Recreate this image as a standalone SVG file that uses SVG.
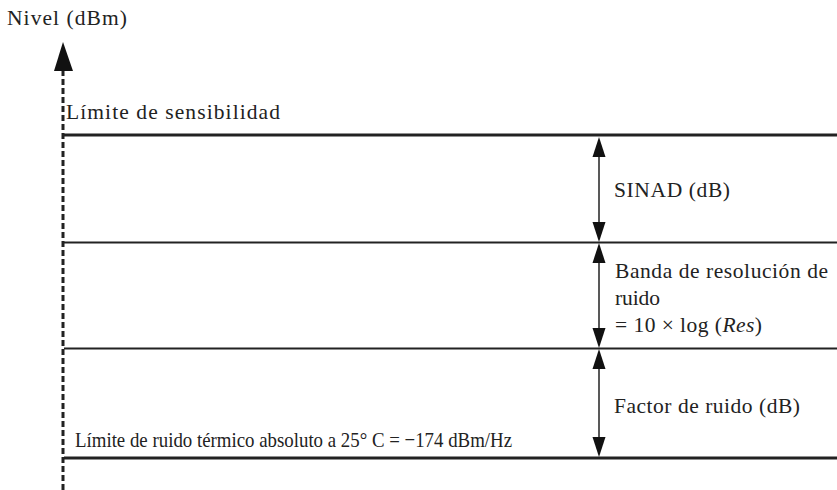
<svg xmlns="http://www.w3.org/2000/svg" width="837" height="490" viewBox="0 0 837 490">
<style>
text{font-family:'Liberation Serif','DejaVu Serif',serif;font-size:21.5px;fill:#222}
.lvl{stroke:#222;fill:none}
.dim{stroke:#222;stroke-width:1.5;fill:none}
.ah{fill:#111}
</style>
<rect width="837" height="490" fill="#fff"/>
<g id="axis">
<line x1="63" y1="70" x2="63" y2="490" stroke="#222" stroke-width="3" stroke-dasharray="6,3"/>
<polygon class="ah" points="63,42 54,71 73,71"/>
<text x="7" y="25" textLength="120" lengthAdjust="spacing">Nivel (dBm)</text>
</g>
<g id="levels">
<line class="lvl" x1="64" y1="135" x2="837" y2="135" stroke-width="3"/>
<line class="lvl" x1="64" y1="242.5" x2="837" y2="242.5" stroke-width="1.8"/>
<line class="lvl" x1="64" y1="348.5" x2="837" y2="348.5" stroke-width="1.8"/>
<line class="lvl" x1="64" y1="458" x2="837" y2="458" stroke-width="3"/>
</g>
<g id="sensibilidad"><text x="66" y="119" textLength="214" lengthAdjust="spacing">Límite de sensibilidad</text></g>
<g id="termico"><text x="75" y="447" textLength="437" lengthAdjust="spacingAndGlyphs">Límite de ruido térmico absoluto a 25° C = −174 dBm/Hz</text></g>
<g id="connectors">
<line class="dim" x1="599" y1="150" x2="599" y2="228"/>
<polygon class="ah" points="599,137 592.5,157 605.5,157"/>
<polygon class="ah" points="599,242 592.5,222 605.5,222"/>
<line class="dim" x1="599" y1="258" x2="599" y2="334"/>
<polygon class="ah" points="599,243 592.5,263 605.5,263"/>
<polygon class="ah" points="599,348 592.5,328 605.5,328"/>
<line class="dim" x1="599" y1="364" x2="599" y2="443"/>
<polygon class="ah" points="599,349 592.5,369 605.5,369"/>
<polygon class="ah" points="599,457 592.5,437 605.5,437"/>
</g>
<g id="sinad"><text x="614" y="197" textLength="116" lengthAdjust="spacing">SINAD (dB)</text></g>
<g id="banda">
<text x="615" y="278" textLength="213" lengthAdjust="spacing">Banda de resolución de</text>
<text x="615" y="305" textLength="45" lengthAdjust="spacing">ruido</text>
<text x="615" y="332" textLength="147" lengthAdjust="spacing">= 10 × log (<tspan font-style="italic">Res</tspan>)</text>
</g>
<g id="factor"><text x="614" y="413" textLength="186" lengthAdjust="spacing">Factor de ruido (dB)</text></g>
</svg>
